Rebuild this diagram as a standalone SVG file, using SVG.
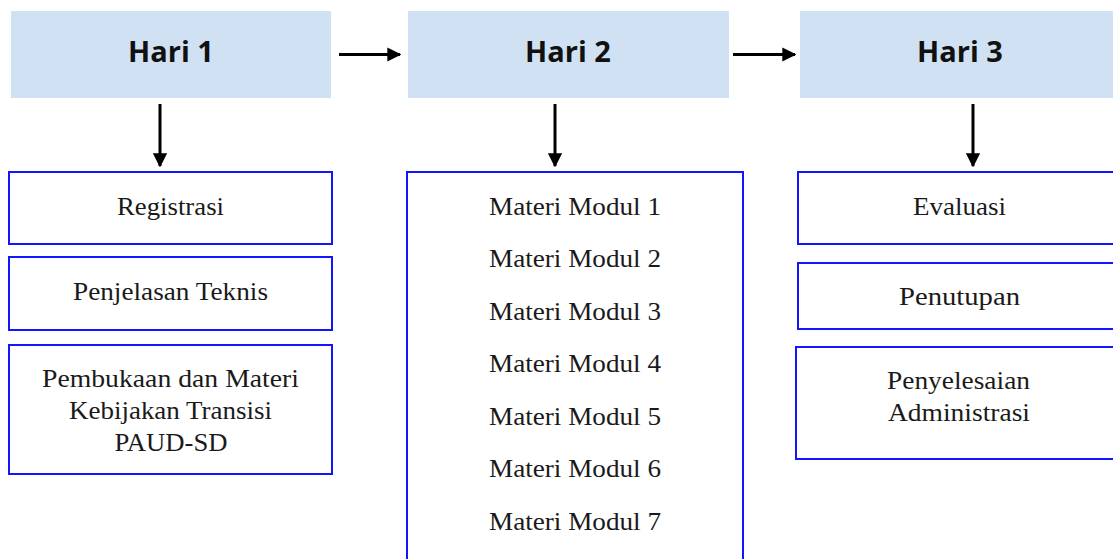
<svg xmlns="http://www.w3.org/2000/svg" width="1113" height="559" viewBox="0 0 1113 559">
<style>
.hdr{fill:#cfe1f2;stroke:none}
.box{fill:#ffffff;stroke:#1414ff;stroke-width:2}
.ht{font-family:"Open Sans","Liberation Sans",sans-serif;font-weight:bold;font-size:29px;fill:#111;text-anchor:middle}
.bt{font-family:"Liberation Serif",serif;font-size:25px;fill:#1a1a1a;text-anchor:middle}
.con{stroke:#000;stroke-width:3;fill:none}
</style>
<defs>
<marker id="ah" viewBox="0 0 10 10" refX="9" refY="5" markerWidth="4.7" markerHeight="4.7" markerUnits="strokeWidth" orient="auto">
<path d="M0,0 L10,5 L0,10 Z" fill="#000"/>
</marker>
</defs>
<rect width="1113" height="559" fill="#ffffff"/>
<g id="hari1">
<rect class="hdr" x="11" y="11" width="320" height="87"/>
<text class="ht" x="171" y="62">Hari 1</text>
</g>
<g id="hari2">
<rect class="hdr" x="408" y="11" width="321" height="87"/>
<text class="ht" x="568" y="62">Hari 2</text>
</g>
<g id="hari3">
<rect class="hdr" x="800" y="11" width="320" height="87"/>
<text class="ht" x="960" y="62">Hari 3</text>
</g>
<g id="registrasi">
<rect class="box" x="9" y="172" width="323" height="72"/>
<text class="bt" x="170.5" y="215" textLength="107" lengthAdjust="spacingAndGlyphs">Registrasi</text>
</g>
<g id="penjelasan">
<rect class="box" x="9" y="257" width="323" height="73"/>
<text class="bt" x="170.5" y="300" textLength="195" lengthAdjust="spacingAndGlyphs">Penjelasan Teknis</text>
</g>
<g id="pembukaan">
<rect class="box" x="9" y="345" width="323" height="129"/>
<text class="bt" x="170.5" y="387" textLength="257" lengthAdjust="spacingAndGlyphs">Pembukaan dan Materi</text>
<text class="bt" x="170.5" y="419" textLength="203" lengthAdjust="spacingAndGlyphs">Kebijakan Transisi</text>
<text class="bt" x="171" y="451" textLength="113" lengthAdjust="spacingAndGlyphs">PAUD-SD</text>
</g>
<g id="materi">
<rect class="box" x="407" y="172" width="336" height="400"/>
<text class="bt" x="575" y="215" textLength="172" lengthAdjust="spacingAndGlyphs">Materi Modul 1</text>
<text class="bt" x="575" y="267" textLength="172" lengthAdjust="spacingAndGlyphs">Materi Modul 2</text>
<text class="bt" x="575" y="320" textLength="172" lengthAdjust="spacingAndGlyphs">Materi Modul 3</text>
<text class="bt" x="575" y="372" textLength="172" lengthAdjust="spacingAndGlyphs">Materi Modul 4</text>
<text class="bt" x="575" y="425" textLength="172" lengthAdjust="spacingAndGlyphs">Materi Modul 5</text>
<text class="bt" x="575" y="477" textLength="172" lengthAdjust="spacingAndGlyphs">Materi Modul 6</text>
<text class="bt" x="575" y="530" textLength="172" lengthAdjust="spacingAndGlyphs">Materi Modul 7</text>
</g>
<g id="evaluasi">
<rect class="box" x="798" y="172" width="323" height="72"/>
<text class="bt" x="959.5" y="215" textLength="93" lengthAdjust="spacingAndGlyphs">Evaluasi</text>
</g>
<g id="penutupan">
<rect class="box" x="798" y="263" width="323" height="66"/>
<text class="bt" x="959.5" y="305" textLength="121" lengthAdjust="spacingAndGlyphs">Penutupan</text>
</g>
<g id="penyelesaian">
<rect class="box" x="796" y="347" width="325" height="112"/>
<text class="bt" x="958.5" y="389" textLength="143" lengthAdjust="spacingAndGlyphs">Penyelesaian</text>
<text class="bt" x="959" y="421" textLength="142" lengthAdjust="spacingAndGlyphs">Administrasi</text>
</g>
<g id="connectors">
<line class="con" x1="339" y1="54.5" x2="400" y2="54.5" marker-end="url(#ah)"/>
<line class="con" x1="733" y1="54.5" x2="795" y2="54.5" marker-end="url(#ah)"/>
<line class="con" x1="160" y1="104" x2="160" y2="166" marker-end="url(#ah)"/>
<line class="con" x1="555" y1="104" x2="555" y2="166" marker-end="url(#ah)"/>
<line class="con" x1="973" y1="104" x2="973" y2="166" marker-end="url(#ah)"/>
</g>
</svg>
